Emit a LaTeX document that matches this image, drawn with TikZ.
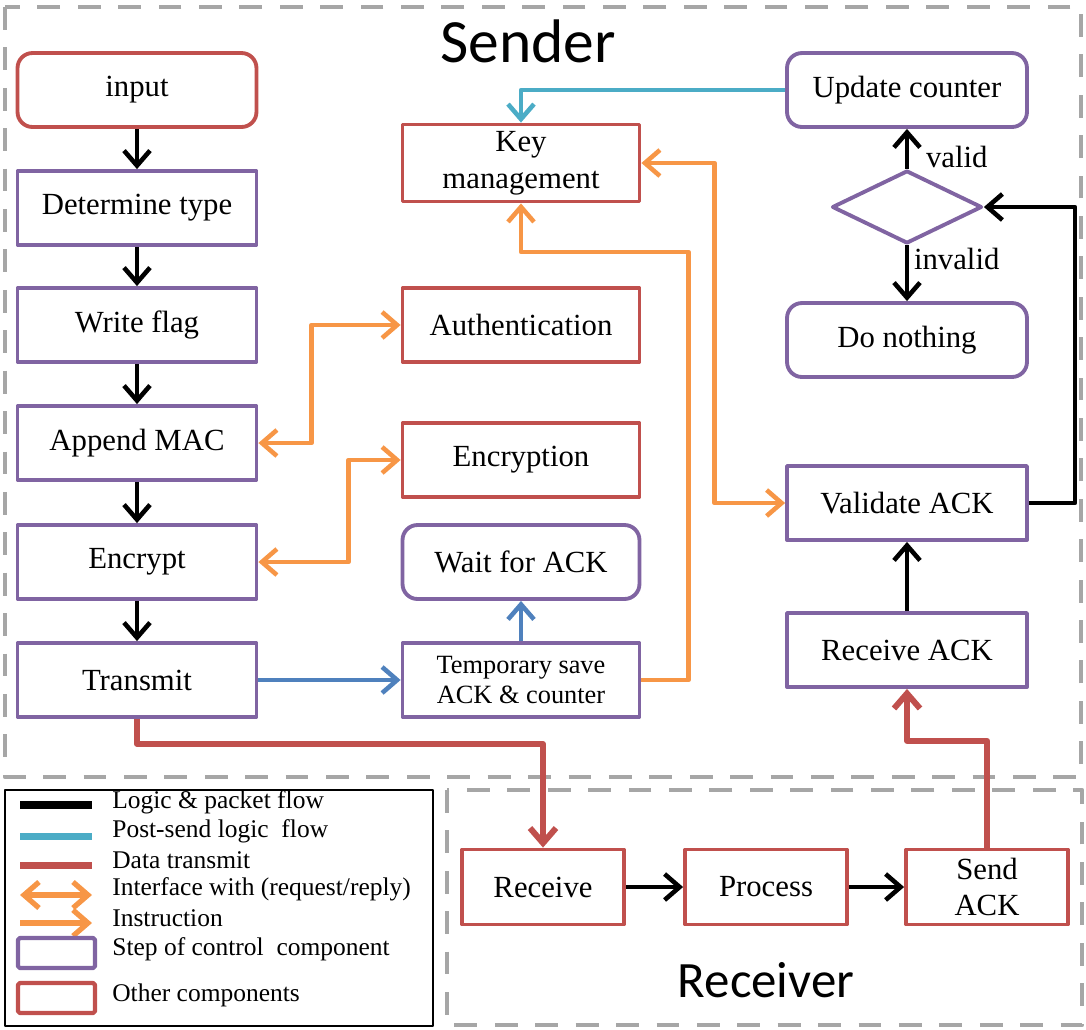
\documentclass[tikz,border=0pt]{standalone}
\usepackage{fontspec}
\setmainfont{Liberation Serif}
\newfontfamily\titlefont{Carlito}
\usetikzlibrary{arrows.meta,shapes.geometric,calc}

\definecolor{cpurple}{HTML}{8064A2}
\definecolor{cred}{HTML}{C0504D}
\definecolor{corange}{HTML}{F79646}
\definecolor{cteal}{HTML}{4BACC6}
\definecolor{cblue}{HTML}{4F81BD}
\definecolor{cgray}{HTML}{A6A6A6}

\begin{document}
\begin{tikzpicture}[x=0.02cm,y=-0.02cm,
  >={Straight Barb[length=3mm,width=5.2mm]},
  box/.style={draw, line width=2.2pt, fill=white, align=center, inner sep=2pt,
    font=\fontsize{17.5}{21}\selectfont},
  ctrl/.style={box, draw=cpurple},
  other/.style={box, draw=cred},
  rnd/.style={rounded corners=0.3cm},
  leftcol/.style={minimum width=4.78cm, minimum height=1.48cm},
  midcol/.style={minimum width=4.74cm, minimum height=1.48cm},
  rightcol/.style={minimum width=4.8cm, minimum height=1.48cm},
  rxcol/.style={minimum width=3.24cm, minimum height=1.5cm},
  flow/.style={->, line width=2.6pt, draw=black},
  postflow/.style={->, line width=2.6pt, draw=cteal},
  datat/.style={->, line width=3.4pt, draw=cred},
  iface/.style={<->, line width=2.6pt, draw=corange},
  instr/.style={->, line width=2.6pt, draw=corange},
  tflow/.style={->, line width=2.6pt, draw=cblue},
  region/.style={draw=cgray, line width=2.4pt, dash pattern=on 13pt off 10pt},
  lbl/.style={font=\fontsize{17.5}{21}\selectfont, inner sep=1pt},
  legtext/.style={anchor=west, inner sep=0pt, font=\fontsize{14.5}{16}\selectfont},
  line join=round]

\useasboundingbox (0,0) rectangle (1086,1029);

% regions
\draw[region] (5,7) rectangle (1081,777);
\draw[region] (447,790) rectangle (1082,1025);
\node[anchor=base, font=\titlefont\fontsize{35}{40}\selectfont] (sendertitle) at (528,62) {Sender};
\node[anchor=base, font=\titlefont\fontsize{29}{34}\selectfont] (receivertitle) at (766,997) {Receiver};

% sender: left column
\node[other, rnd, leftcol] (input)     at (137,90)  {input};
\node[ctrl, leftcol]       (dettype)   at (137,208) {Determine type};
\node[ctrl, leftcol]       (writeflag) at (137,325) {Write flag};
\node[ctrl, leftcol]       (appendmac) at (137,443) {Append MAC};
\node[ctrl, leftcol]       (encrypt)   at (137,562) {Encrypt};
\node[ctrl, leftcol]       (transmit)  at (137,680) {Transmit};

% sender: middle column
\node[other, midcol, minimum height=1.54cm] (keymgmt) at (521,163) {Key\\management};
\node[other, midcol]       (auth)       at (521,325) {Authentication};
\node[other, midcol]       (encryption) at (521,460) {Encryption};
\node[ctrl, rnd, midcol]   (waitack)    at (521,562) {Wait for ACK};
\node[ctrl, midcol, font=\fontsize{15}{17.5}\selectfont] (tempsave) at (521,680) {Temporary save\\ACK \& counter};

% sender: right column
\node[ctrl, rnd, rightcol] (update)    at (907,90)  {Update counter};
\node[draw=cpurple, line width=2.2pt, shape=diamond, minimum width=3cm,
      minimum height=1.46cm, inner sep=0pt, fill=white] (dia) at (907,207) {};
\node[ctrl, rnd, rightcol] (donothing) at (907,340) {Do nothing};
\node[ctrl, rightcol]      (validate)  at (907,503) {Validate ACK};
\node[ctrl, rightcol]      (recack)    at (907,650) {Receive ACK};

% receiver
\node[other, rxcol] (receive) at (543,887) {Receive};
\node[other, rxcol] (process) at (766,887) {Process};
\node[other, rxcol] (sendack) at (987,887) {Send\\ACK};

% logic & packet flow
\draw[flow] (input) -- (dettype);
\draw[flow] (dettype) -- (writeflag);
\draw[flow] (writeflag) -- (appendmac);
\draw[flow] (appendmac) -- (encrypt);
\draw[flow] (encrypt) -- (transmit);
\draw[flow] (receive) -- (process);
\draw[flow] (process) -- (sendack);
\draw[flow] (recack) -- (validate);
\draw[flow] (validate.east) -- ++(46,0) |- (dia.east);
\draw[flow] (dia.north) -- (update.south)
  node[lbl, pos=0.3, anchor=west, xshift=0.3cm] {valid};
\draw[flow] (dia.south) -- (donothing.north)
  node[lbl, pos=0.25, anchor=west, xshift=0.06cm] {invalid};

% post-send logic flow
\draw[postflow] (update.west) -| (keymgmt.north);

% local flow after transmitting
\draw[tflow] (transmit) -- (tempsave);
\draw[tflow] (tempsave) -- (waitack);

% interfaces and instructions
\draw[iface] (appendmac.east) -- ++(53,0) |- (auth.west);
\draw[iface] (encrypt.east) -- ++(90,0) |- (encryption.west);
\draw[iface] (keymgmt.east) -- ++(73,0) |- (validate.west);
\draw[instr] (tempsave.east) -- ++(47,0) -- ++(0,-428) -| (keymgmt.south);

% data transmit
\draw[datat] (transmit.south) -- ++(0,25) -| (receive.north);
\draw[datat] (sendack.north) -- ++(0,-107) -| (recack.south);

% legend
\draw[line width=1.2pt] (5,790) rectangle (433,1026);
\draw[line width=4pt, black] (20,805) -- (92,805);
\draw[line width=4pt, cteal] (20,836) -- (92,836);
\draw[line width=4pt, cred] (20,865) -- (92,865);
\draw[iface, line width=3pt] (20,895) -- (92,895);
\draw[instr, line width=3pt] (20,923) -- (92,923);
\draw[draw=cpurple, line width=2.4pt, rounded corners=1pt] (18,938) rectangle (95,968);
\draw[draw=cred, line width=2.4pt, rounded corners=1pt] (18,983) rectangle (95,1013);
\node[legtext] (l1) at (112,802) {Logic \& packet flow};
\node[legtext] (l2) at (112,831) {Post-send logic~ flow};
\node[legtext] (l3) at (112,860) {Data transmit};
\node[legtext] (l4) at (112,889) {Interface with (request/reply)};
\node[legtext] (l5) at (112,918) {Instruction};
\node[legtext] (l6) at (112,949) {Step of control~ component};
\node[legtext] (l7) at (112,995) {Other components};
\end{tikzpicture}
\end{document}
